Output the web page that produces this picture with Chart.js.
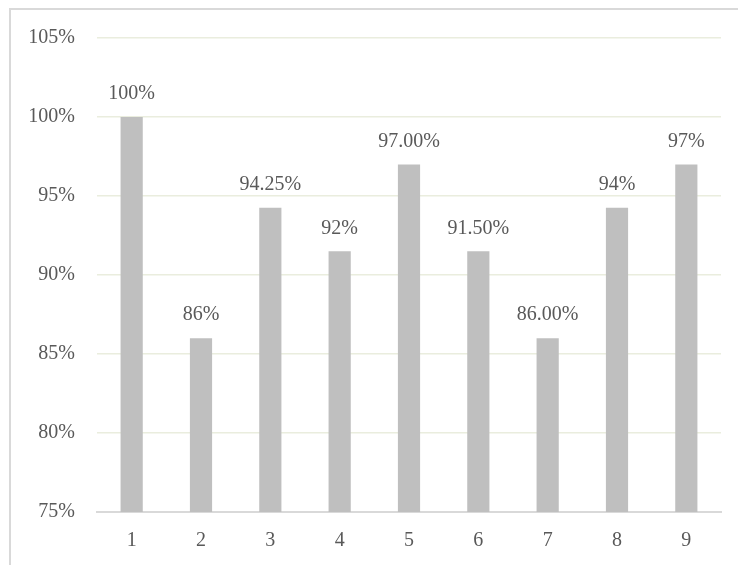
<!DOCTYPE html>
<html lang="en">
<head>
    <meta charset="UTF-8">
    <title>Scores</title>
    <style>
        html, body { margin: 0; padding: 0; background: #fff; overflow: hidden; }
        #frame {
            position: absolute; left: 9px; top: 8px; width: 800px; height: 600px;
            border-left: 2px solid #d9d9d9; border-top: 2px solid #d9d9d9;
        }
        #chart { position: absolute; left: 0; top: 0; }
    </style>
</head>
<body>
    <div id="frame"></div>
    <canvas id="chart" width="738" height="565"></canvas>
    <script src="https://cdn.jsdelivr.net/npm/chart.js"></script>
    <script>
        const categories = ['1', '2', '3', '4', '5', '6', '7', '8', '9'];
        const scores = [100, 86, 94.25, 91.5, 97, 91.5, 86, 94.25, 97];
        const scoreLabels = ['100%', '86%', '94.25%', '92%', '97.00%', '91.50%', '86.00%', '94%', '97%'];

        const font = { family: '"Liberation Serif", serif', size: 20 };
        const textColor = '#595959';

        // value labels above each bar
        const barLabels = {
            id: 'barLabels',
            afterDatasetsDraw(chart) {
                const ctx = chart.ctx;
                const meta = chart.getDatasetMeta(0);
                ctx.save();
                ctx.font = `${font.size}px ${font.family}`;
                ctx.fillStyle = textColor;
                ctx.textAlign = 'center';
                ctx.textBaseline = 'middle';
                meta.data.forEach((bar, i) => {
                    ctx.fillText(scoreLabels[i], bar.x, bar.y - 23);
                });
                ctx.restore();
            }
        };

        new Chart(document.getElementById('chart'), {
            type: 'bar',
            data: {
                labels: categories,
                datasets: [{
                    data: scores,
                    backgroundColor: '#bfbfbf',
                    barPercentage: 0.64,
                    categoryPercentage: 0.5
                }]
            },
            options: {
                responsive: false,
                animation: false,
                layout: { padding: { top: 38, right: 17, bottom: 0, left: 0 } },
                plugins: {
                    legend: { display: false },
                    tooltip: { enabled: false }
                },
                scales: {
                    x: {
                        grid: { display: false, drawTicks: false },
                        border: { color: '#d9d9d9', width: 2 },
                        ticks: { color: textColor, font: font, padding: 17 },
                        afterFit(scale) { scale.height = 53; }
                    },
                    y: {
                        min: 75,
                        max: 105,
                        grid: { color: '#eaedde', lineWidth: 1.5, drawTicks: false },
                        border: { display: false },
                        ticks: {
                            stepSize: 5,
                            color: textColor,
                            font: font,
                            padding: 22,
                            callback: v => v + '%'
                        },
                        afterFit(scale) { scale.width = 97; }
                    }
                }
            },
            plugins: [barLabels]
        });
    </script>
</body>
</html>
